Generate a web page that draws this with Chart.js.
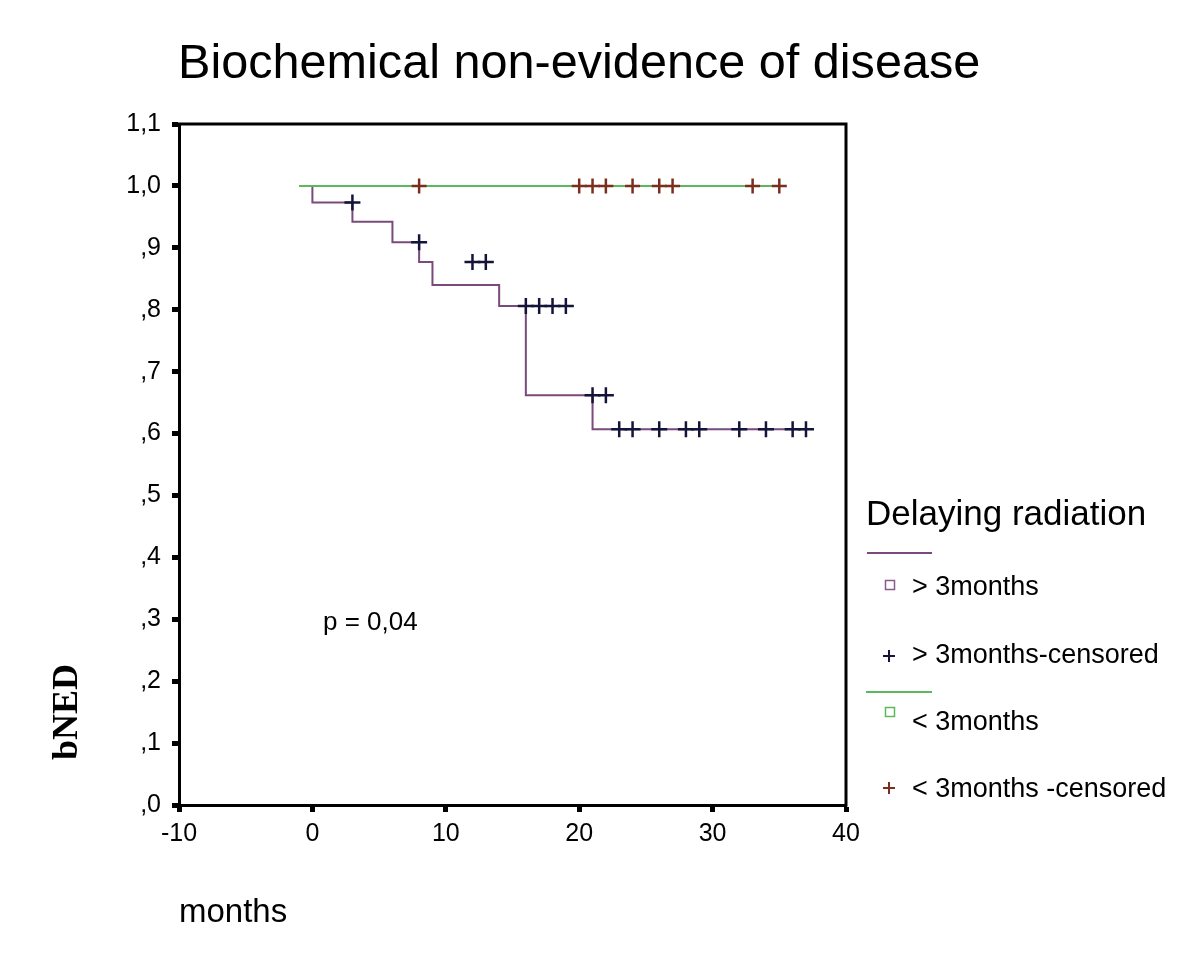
<!DOCTYPE html>
<html>
<head>
<meta charset="utf-8">
<script src="https://cdn.jsdelivr.net/npm/chart.js@4.4.1/dist/chart.umd.min.js"></script>
<style>
html,body{margin:0;padding:0;background:#fff;}
#wrap{position:relative;width:1200px;height:974px;}
</style>
</head>
<body>
<div id="wrap"><canvas id="c" width="1200" height="974"></canvas></div>
<script>
// ---- data ----
const titleText = 'Biochemical non-evidence of disease';
const xAxisTitle = 'months';
const yAxisTitle = 'bNED';
const pValueText = 'p = 0,04';
const legendTitle = 'Delaying radiation';
const legendLabels = ['> 3months', '> 3months-censored', '< 3months', '< 3months -censored'];

const xTickValues = [-10, 0, 10, 20, 30, 40];
const xTickLabels = ['-10', '0', '10', '20', '30', '40'];
const yTickValues = [0, 0.1, 0.2, 0.3, 0.4, 0.5, 0.6, 0.7, 0.8, 0.9, 1.0, 1.1];
const yTickLabels = [',0', ',1', ',2', ',3', ',4', ',5', ',6', ',7', ',8', ',9', '1,0', '1,1'];

// > 3 months (step curve)
const lateTimes    = [0, 3, 6, 8, 9, 14, 16, 21, 23, 37];
const lateSurvival = [1.0, 0.973, 0.942, 0.909, 0.877, 0.840, 0.806, 0.662, 0.607, 0.607];
// > 3 months censored
const lateCensTimes = [3, 8, 12, 13, 16, 17, 18, 19, 21, 22, 23, 24, 26, 28, 29, 32, 34, 36, 37];
const lateCensSurv  = [0.973, 0.909, 0.877, 0.877, 0.806, 0.806, 0.806, 0.806, 0.662, 0.662,
                       0.607, 0.607, 0.607, 0.607, 0.607, 0.607, 0.607, 0.607, 0.607];
// < 3 months (step curve)
const earlyTimes    = [-1, 35];
const earlySurvival = [1.0, 1.0];
// < 3 months censored
const earlyCensTimes = [8, 20, 21, 22, 24, 26, 27, 33, 35];
const earlyCensSurv  = [1.0, 1.0, 1.0, 1.0, 1.0, 1.0, 1.0, 1.0, 1.0];

// ---- styles ----
const purple = '#7a4a7a';
const green = '#5cb85c';
const lateCensColor = '#14143a';
const earlyCensColor = '#7a2e1e';
const sans = '"Liberation Sans", Arial, sans-serif';

const pts = (xs, ys) => xs.map((x, i) => ({x: x, y: ys[i]}));

const textPlugin = {
  id: 'texts',
  afterDraw(chart) {
    const ctx = chart.ctx;
    const a = chart.chartArea;
    ctx.save();
    // box top and right
    ctx.strokeStyle = '#000';
    ctx.lineWidth = 3;
    ctx.beginPath();
    ctx.moveTo(a.left - 1.5, a.top);
    ctx.lineTo(a.right, a.top);
    ctx.lineTo(a.right, a.bottom + 1.5);
    ctx.stroke();

    ctx.fillStyle = '#000';
    ctx.textBaseline = 'alphabetic';
    ctx.textAlign = 'left';
    // title
    ctx.font = '48.6px ' + sans;
    ctx.fillText(titleText, 178, 78);
    // x title
    ctx.font = '33px ' + sans;
    ctx.fillText(xAxisTitle, 179, 922);
    // y title (rotated)
    ctx.save();
    ctx.translate(77, 712);
    ctx.rotate(-Math.PI / 2);
    ctx.font = 'bold 36px "Liberation Serif", "Times New Roman", serif';
    ctx.textAlign = 'center';
    ctx.fillText(yAxisTitle, 0, 0);
    ctx.restore();
    // p value
    ctx.font = '26px ' + sans;
    ctx.fillText(pValueText, 323, 630);

    // legend
    ctx.font = '35px ' + sans;
    ctx.fillText(legendTitle, 866, 525);
    ctx.lineWidth = 2;
    ctx.strokeStyle = purple;
    ctx.beginPath(); ctx.moveTo(867, 553); ctx.lineTo(932, 553); ctx.stroke();
    ctx.strokeStyle = green;
    ctx.beginPath(); ctx.moveTo(866, 692); ctx.lineTo(932, 692); ctx.stroke();
    // squares
    ctx.lineWidth = 1.5;
    ctx.strokeStyle = '#8a5a8a';
    ctx.strokeRect(885.5, 580.5, 9, 9);
    ctx.strokeStyle = green;
    ctx.strokeRect(885.5, 707.5, 9, 9);
    // crosses
    const cross = (cx, cy, col) => {
      ctx.strokeStyle = col; ctx.lineWidth = 2;
      ctx.beginPath();
      ctx.moveTo(cx - 6, cy); ctx.lineTo(cx + 6, cy);
      ctx.moveTo(cx, cy - 6); ctx.lineTo(cx, cy + 6);
      ctx.stroke();
    };
    cross(889, 656, lateCensColor);
    cross(889, 788, earlyCensColor);
    ctx.fillStyle = '#000';
    ctx.font = '27px ' + sans;
    const ys = [595, 663, 730, 797];
    legendLabels.forEach((t, i) => ctx.fillText(t, 912, ys[i]));
    ctx.restore();
  }
};

new Chart(document.getElementById('c'), {
  type: 'line',
  data: {
    datasets: [
      {
        label: legendLabels[1],
        data: pts(lateCensTimes, lateCensSurv),
        showLine: false,
        pointStyle: 'cross',
        pointRadius: 8,
        pointBorderWidth: 2.5,
        borderColor: lateCensColor,
        backgroundColor: lateCensColor,
        order: 0
      },
      {
        label: legendLabels[3],
        data: pts(earlyCensTimes, earlyCensSurv),
        showLine: false,
        pointStyle: 'cross',
        pointRadius: 7.5,
        pointBorderWidth: 2.5,
        borderColor: earlyCensColor,
        backgroundColor: earlyCensColor,
        order: 0
      },
      {
        label: legendLabels[2],
        data: pts(earlyTimes, earlySurvival),
        stepped: 'after',
        borderColor: green,
        borderWidth: 2,
        pointRadius: 0,
        fill: false,
        order: 1
      },
      {
        label: legendLabels[0],
        data: pts(lateTimes, lateSurvival),
        stepped: 'after',
        borderColor: purple,
        borderWidth: 2,
        pointRadius: 0,
        fill: false,
        order: 2
      }
    ]
  },
  options: {
    responsive: false,
    animation: false,
    devicePixelRatio: 1,
    layout: { autoPadding: false, padding: { left: 0, right: 354, top: 124, bottom: 109 } },
    plugins: { legend: { display: false }, title: { display: false }, tooltip: { enabled: false } },
    scales: {
      x: {
        type: 'linear',
        min: -10, max: 40,
        afterBuildTicks: s => { s.ticks = xTickValues.map(v => ({value: v})); },
        afterFit: s => { s.height = 60; },
        ticks: {
          color: '#000',
          font: { family: sans, size: 25 },
          padding: 7,
          maxRotation: 0,
          autoSkip: false,
          callback: (v, i) => xTickLabels[i]
        },
        grid: { display: true, drawOnChartArea: false, drawTicks: true, tickLength: 7, tickWidth: 5, tickColor: '#000' },
        border: { display: true, color: '#000', width: 3 }
      },
      y: {
        type: 'linear',
        min: 0, max: 1.1,
        afterBuildTicks: s => { s.ticks = yTickValues.map(v => ({value: v})); },
        afterFit: s => { s.width = 179; },
        ticks: {
          color: '#000',
          font: { family: sans, size: 25 },
          padding: 11,
          autoSkip: false,
          callback: (v, i) => yTickLabels[i]
        },
        grid: { display: true, drawOnChartArea: false, drawTicks: true, tickLength: 7, tickWidth: 5, tickColor: '#000' },
        border: { display: true, color: '#000', width: 3 }
      }
    }
  },
  plugins: [textPlugin]
});
</script>
</body>
</html>
